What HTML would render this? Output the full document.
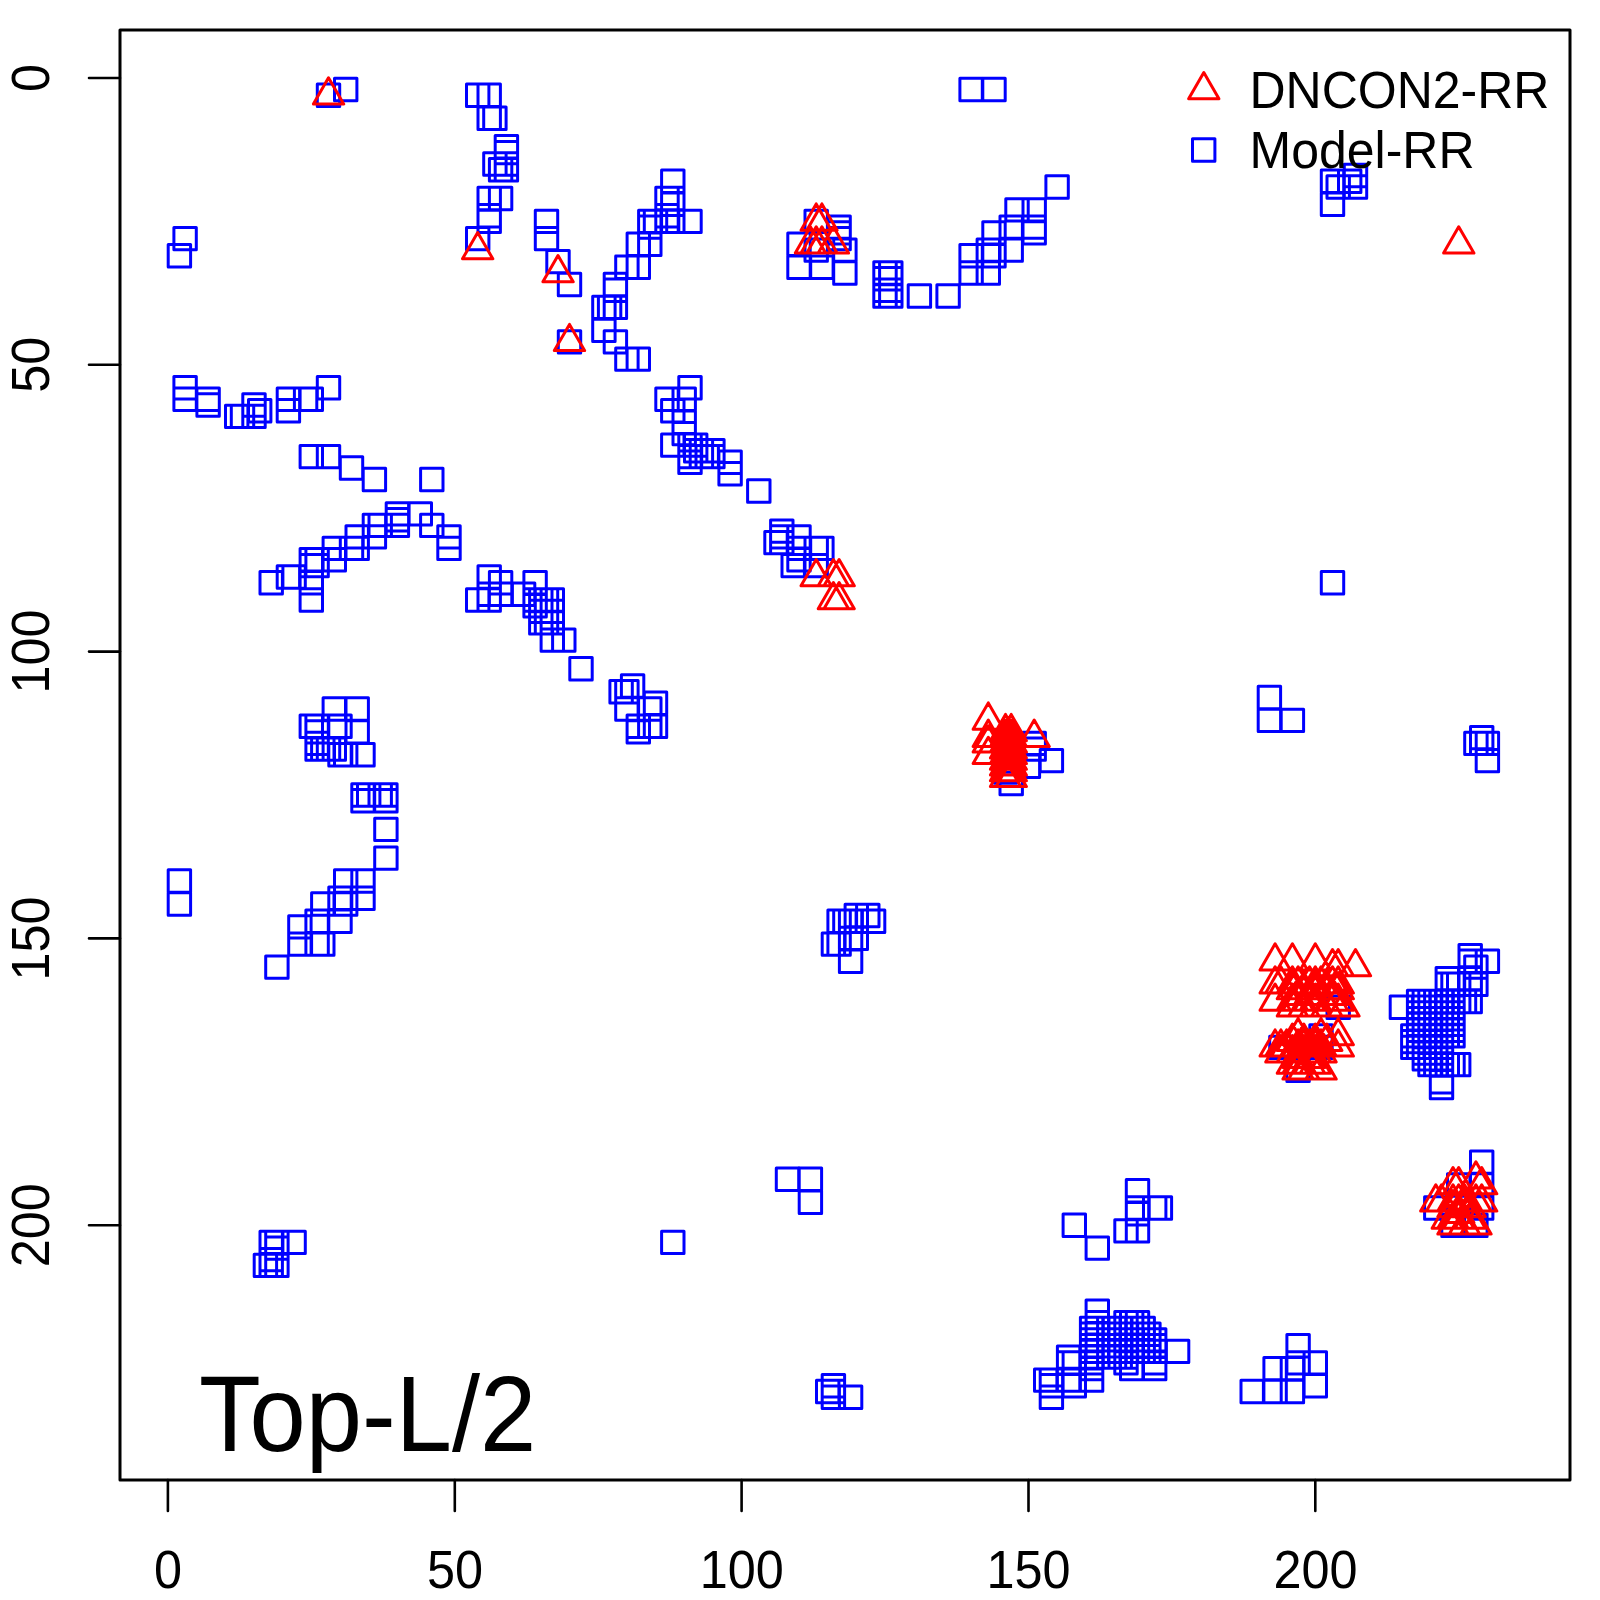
<!DOCTYPE html>
<html><head><meta charset="utf-8"><style>
html,body{margin:0;padding:0;background:#fff;}
svg{display:block;}
text{font-family:"Liberation Sans",sans-serif;}
</style></head><body>
<svg width="1600" height="1600" viewBox="0 0 1600 1600">
<rect width="1600" height="1600" fill="#fff"/>
<path d="M120 30H1570V1480H120Z" fill="none" stroke="#000" stroke-width="3" stroke-linejoin="round"/>
<path d="M167.9 1480V1511M89 78.0H120M454.8 1480V1511M89 364.8H120M741.6 1480V1511M89 651.6H120M1028.5 1480V1511M89 938.4H120M1315.3 1480V1511M89 1225.2H120" fill="none" stroke="#000" stroke-width="2.6" stroke-linecap="round"/>
<g font-size="50.4" fill="#000">
<text transform="translate(168.0 1588.3) scale(1 1.064)" text-anchor="middle">0</text>
<text transform="translate(48.8 78.0) rotate(-90) scale(1 1.064)" text-anchor="middle">0</text>
<text transform="translate(454.9 1588.3) scale(1 1.064)" text-anchor="middle">50</text>
<text transform="translate(48.8 364.8) rotate(-90) scale(1 1.064)" text-anchor="middle">50</text>
<text transform="translate(741.7 1588.3) scale(1 1.064)" text-anchor="middle">100</text>
<text transform="translate(48.8 651.6) rotate(-90) scale(1 1.064)" text-anchor="middle">100</text>
<text transform="translate(1028.5 1588.3) scale(1 1.064)" text-anchor="middle">150</text>
<text transform="translate(48.8 938.4) rotate(-90) scale(1 1.064)" text-anchor="middle">150</text>
<text transform="translate(1315.4 1588.3) scale(1 1.064)" text-anchor="middle">200</text>
<text transform="translate(48.8 1225.2) rotate(-90) scale(1 1.064)" text-anchor="middle">200</text>
</g>
<path d="M317.3 84.0h22.4v22.4h-22.4zM334.5 78.3h22.4v22.4h-22.4zM173.9 227.4h22.4v22.4h-22.4zM168.2 244.6h22.4v22.4h-22.4zM466.5 84.0h22.4v22.4h-22.4zM478.0 84.0h22.4v22.4h-22.4zM478.0 107.0h22.4v22.4h-22.4zM483.7 107.0h22.4v22.4h-22.4zM495.2 135.6h22.4v22.4h-22.4zM495.2 141.4h22.4v22.4h-22.4zM483.7 152.8h22.4v22.4h-22.4zM489.4 158.6h22.4v22.4h-22.4zM495.2 152.8h22.4v22.4h-22.4zM495.2 158.6h22.4v22.4h-22.4zM478.0 187.3h22.4v22.4h-22.4zM489.4 187.3h22.4v22.4h-22.4zM478.0 204.5h22.4v22.4h-22.4zM478.0 210.2h22.4v22.4h-22.4zM466.5 227.4h22.4v22.4h-22.4zM535.3 210.2h22.4v22.4h-22.4zM535.3 227.4h22.4v22.4h-22.4zM546.8 250.4h22.4v22.4h-22.4zM558.3 273.3h22.4v22.4h-22.4zM558.3 330.7h22.4v22.4h-22.4zM661.6 170.0h22.4v22.4h-22.4zM655.8 187.3h22.4v22.4h-22.4zM661.6 193.0h22.4v22.4h-22.4zM655.8 204.5h22.4v22.4h-22.4zM638.6 210.2h22.4v22.4h-22.4zM644.3 210.2h22.4v22.4h-22.4zM655.8 210.2h22.4v22.4h-22.4zM661.6 210.2h22.4v22.4h-22.4zM678.8 210.2h22.4v22.4h-22.4zM627.1 233.1h22.4v22.4h-22.4zM638.6 233.1h22.4v22.4h-22.4zM638.6 215.9h22.4v22.4h-22.4zM661.6 187.3h22.4v22.4h-22.4zM615.7 256.1h22.4v22.4h-22.4zM627.1 256.1h22.4v22.4h-22.4zM604.2 273.3h22.4v22.4h-22.4zM604.2 279.0h22.4v22.4h-22.4zM592.7 296.2h22.4v22.4h-22.4zM598.4 296.2h22.4v22.4h-22.4zM604.2 296.2h22.4v22.4h-22.4zM592.7 319.2h22.4v22.4h-22.4zM604.2 330.7h22.4v22.4h-22.4zM615.7 347.9h22.4v22.4h-22.4zM627.1 347.9h22.4v22.4h-22.4zM805.0 210.2h22.4v22.4h-22.4zM827.9 215.9h22.4v22.4h-22.4zM827.9 221.7h22.4v22.4h-22.4zM827.9 227.4h22.4v22.4h-22.4zM787.8 233.1h22.4v22.4h-22.4zM787.8 256.1h22.4v22.4h-22.4zM810.7 256.1h22.4v22.4h-22.4zM805.0 238.9h22.4v22.4h-22.4zM833.7 238.9h22.4v22.4h-22.4zM833.7 261.8h22.4v22.4h-22.4zM873.8 261.8h22.4v22.4h-22.4zM879.6 261.8h22.4v22.4h-22.4zM873.8 267.6h22.4v22.4h-22.4zM879.6 267.6h22.4v22.4h-22.4zM873.8 279.0h22.4v22.4h-22.4zM879.6 279.0h22.4v22.4h-22.4zM873.8 284.8h22.4v22.4h-22.4zM879.6 284.8h22.4v22.4h-22.4zM908.2 284.8h22.4v22.4h-22.4zM936.9 284.8h22.4v22.4h-22.4zM959.9 78.3h22.4v22.4h-22.4zM982.8 78.3h22.4v22.4h-22.4zM1045.9 175.8h22.4v22.4h-22.4zM1005.8 198.7h22.4v22.4h-22.4zM1023.0 198.7h22.4v22.4h-22.4zM1000.0 215.9h22.4v22.4h-22.4zM1023.0 215.9h22.4v22.4h-22.4zM982.8 221.7h22.4v22.4h-22.4zM1023.0 221.7h22.4v22.4h-22.4zM977.1 238.9h22.4v22.4h-22.4zM1000.0 238.9h22.4v22.4h-22.4zM959.9 244.6h22.4v22.4h-22.4zM982.8 244.6h22.4v22.4h-22.4zM959.9 261.8h22.4v22.4h-22.4zM977.1 261.8h22.4v22.4h-22.4zM1321.3 170.0h22.4v22.4h-22.4zM1321.3 193.0h22.4v22.4h-22.4zM1327.0 175.8h22.4v22.4h-22.4zM1338.5 170.0h22.4v22.4h-22.4zM1344.3 164.3h22.4v22.4h-22.4zM1344.3 175.8h22.4v22.4h-22.4zM173.9 376.5h22.4v22.4h-22.4zM173.9 388.0h22.4v22.4h-22.4zM196.9 388.0h22.4v22.4h-22.4zM196.9 393.8h22.4v22.4h-22.4zM225.5 405.2h22.4v22.4h-22.4zM231.3 405.2h22.4v22.4h-22.4zM242.8 393.8h22.4v22.4h-22.4zM248.5 399.5h22.4v22.4h-22.4zM242.8 405.2h22.4v22.4h-22.4zM277.2 388.0h22.4v22.4h-22.4zM277.2 399.5h22.4v22.4h-22.4zM294.4 388.0h22.4v22.4h-22.4zM300.1 388.0h22.4v22.4h-22.4zM317.3 376.5h22.4v22.4h-22.4zM300.1 445.4h22.4v22.4h-22.4zM317.3 445.4h22.4v22.4h-22.4zM340.3 456.8h22.4v22.4h-22.4zM363.2 468.3h22.4v22.4h-22.4zM420.6 468.3h22.4v22.4h-22.4zM386.2 502.7h22.4v22.4h-22.4zM409.1 502.7h22.4v22.4h-22.4zM386.2 508.5h22.4v22.4h-22.4zM386.2 514.2h22.4v22.4h-22.4zM363.2 514.2h22.4v22.4h-22.4zM369.0 514.2h22.4v22.4h-22.4zM420.6 514.2h22.4v22.4h-22.4zM437.8 525.7h22.4v22.4h-22.4zM437.8 537.2h22.4v22.4h-22.4zM346.0 525.7h22.4v22.4h-22.4zM323.1 537.2h22.4v22.4h-22.4zM323.1 548.6h22.4v22.4h-22.4zM340.3 537.2h22.4v22.4h-22.4zM300.1 548.6h22.4v22.4h-22.4zM305.9 548.6h22.4v22.4h-22.4zM300.1 554.4h22.4v22.4h-22.4zM305.9 554.4h22.4v22.4h-22.4zM346.0 537.2h22.4v22.4h-22.4zM363.2 525.7h22.4v22.4h-22.4zM277.2 565.8h22.4v22.4h-22.4zM282.9 565.8h22.4v22.4h-22.4zM300.1 571.6h22.4v22.4h-22.4zM260.0 571.6h22.4v22.4h-22.4zM300.1 588.8h22.4v22.4h-22.4zM466.5 588.8h22.4v22.4h-22.4zM478.0 565.8h22.4v22.4h-22.4zM489.4 571.6h22.4v22.4h-22.4zM478.0 583.0h22.4v22.4h-22.4zM489.4 583.0h22.4v22.4h-22.4zM512.4 583.0h22.4v22.4h-22.4zM478.0 588.8h22.4v22.4h-22.4zM535.3 600.2h22.4v22.4h-22.4zM535.3 611.7h22.4v22.4h-22.4zM523.9 588.8h22.4v22.4h-22.4zM523.9 571.6h22.4v22.4h-22.4zM523.9 594.5h22.4v22.4h-22.4zM529.6 588.8h22.4v22.4h-22.4zM529.6 611.7h22.4v22.4h-22.4zM535.3 588.8h22.4v22.4h-22.4zM541.1 588.8h22.4v22.4h-22.4zM541.1 611.7h22.4v22.4h-22.4zM529.6 600.2h22.4v22.4h-22.4zM541.1 600.2h22.4v22.4h-22.4zM541.1 628.9h22.4v22.4h-22.4zM552.6 628.9h22.4v22.4h-22.4zM569.8 657.6h22.4v22.4h-22.4zM621.4 674.8h22.4v22.4h-22.4zM609.9 680.6h22.4v22.4h-22.4zM615.7 680.6h22.4v22.4h-22.4zM615.7 697.8h22.4v22.4h-22.4zM627.1 715.0h22.4v22.4h-22.4zM627.1 720.7h22.4v22.4h-22.4zM644.3 692.0h22.4v22.4h-22.4zM644.3 715.0h22.4v22.4h-22.4zM638.6 697.8h22.4v22.4h-22.4zM638.6 715.0h22.4v22.4h-22.4zM678.8 376.5h22.4v22.4h-22.4zM655.8 388.0h22.4v22.4h-22.4zM673.0 388.0h22.4v22.4h-22.4zM661.6 399.5h22.4v22.4h-22.4zM673.0 411.0h22.4v22.4h-22.4zM673.0 422.4h22.4v22.4h-22.4zM661.6 433.9h22.4v22.4h-22.4zM678.8 433.9h22.4v22.4h-22.4zM684.5 433.9h22.4v22.4h-22.4zM684.5 439.6h22.4v22.4h-22.4zM690.2 439.6h22.4v22.4h-22.4zM696.0 445.4h22.4v22.4h-22.4zM690.2 445.4h22.4v22.4h-22.4zM678.8 445.4h22.4v22.4h-22.4zM678.8 451.1h22.4v22.4h-22.4zM701.7 439.6h22.4v22.4h-22.4zM701.7 445.4h22.4v22.4h-22.4zM718.9 451.1h22.4v22.4h-22.4zM718.9 462.6h22.4v22.4h-22.4zM747.6 479.8h22.4v22.4h-22.4zM770.6 519.9h22.4v22.4h-22.4zM770.6 525.7h22.4v22.4h-22.4zM764.8 531.4h22.4v22.4h-22.4zM770.6 531.4h22.4v22.4h-22.4zM787.8 525.7h22.4v22.4h-22.4zM787.8 537.2h22.4v22.4h-22.4zM805.0 537.2h22.4v22.4h-22.4zM810.7 537.2h22.4v22.4h-22.4zM787.8 548.6h22.4v22.4h-22.4zM782.0 554.4h22.4v22.4h-22.4zM805.0 554.4h22.4v22.4h-22.4zM323.1 697.8h22.4v22.4h-22.4zM346.0 697.8h22.4v22.4h-22.4zM346.0 720.7h22.4v22.4h-22.4zM300.1 715.0h22.4v22.4h-22.4zM305.9 715.0h22.4v22.4h-22.4zM305.9 720.7h22.4v22.4h-22.4zM305.9 732.2h22.4v22.4h-22.4zM328.8 715.0h22.4v22.4h-22.4zM305.9 737.9h22.4v22.4h-22.4zM311.6 737.9h22.4v22.4h-22.4zM317.3 737.9h22.4v22.4h-22.4zM323.1 737.9h22.4v22.4h-22.4zM328.8 743.6h22.4v22.4h-22.4zM334.5 743.6h22.4v22.4h-22.4zM351.8 743.6h22.4v22.4h-22.4zM351.8 783.8h22.4v22.4h-22.4zM357.5 783.8h22.4v22.4h-22.4zM369.0 783.8h22.4v22.4h-22.4zM374.7 783.8h22.4v22.4h-22.4zM351.8 789.5h22.4v22.4h-22.4zM374.7 789.5h22.4v22.4h-22.4zM374.7 818.2h22.4v22.4h-22.4zM374.7 846.9h22.4v22.4h-22.4zM334.5 869.8h22.4v22.4h-22.4zM351.8 869.8h22.4v22.4h-22.4zM351.8 887.0h22.4v22.4h-22.4zM328.8 887.0h22.4v22.4h-22.4zM311.6 892.8h22.4v22.4h-22.4zM334.5 892.8h22.4v22.4h-22.4zM305.9 910.0h22.4v22.4h-22.4zM288.7 915.7h22.4v22.4h-22.4zM328.8 910.0h22.4v22.4h-22.4zM288.7 932.9h22.4v22.4h-22.4zM305.9 932.9h22.4v22.4h-22.4zM311.6 932.9h22.4v22.4h-22.4zM265.7 955.9h22.4v22.4h-22.4zM168.2 869.8h22.4v22.4h-22.4zM168.2 892.8h22.4v22.4h-22.4zM1023.0 732.2h22.4v22.4h-22.4zM1023.0 737.9h22.4v22.4h-22.4zM1040.2 749.4h22.4v22.4h-22.4zM994.3 760.9h22.4v22.4h-22.4zM1000.0 772.3h22.4v22.4h-22.4zM1017.2 755.1h22.4v22.4h-22.4zM1258.2 686.3h22.4v22.4h-22.4zM1258.2 709.2h22.4v22.4h-22.4zM1281.2 709.2h22.4v22.4h-22.4zM1470.5 726.4h22.4v22.4h-22.4zM1464.7 732.2h22.4v22.4h-22.4zM1470.5 732.2h22.4v22.4h-22.4zM1476.2 732.2h22.4v22.4h-22.4zM1476.2 749.4h22.4v22.4h-22.4zM1321.3 571.6h22.4v22.4h-22.4zM845.1 904.3h22.4v22.4h-22.4zM856.6 904.3h22.4v22.4h-22.4zM827.9 910.0h22.4v22.4h-22.4zM833.7 910.0h22.4v22.4h-22.4zM839.4 910.0h22.4v22.4h-22.4zM862.4 910.0h22.4v22.4h-22.4zM822.2 932.9h22.4v22.4h-22.4zM827.9 932.9h22.4v22.4h-22.4zM839.4 927.2h22.4v22.4h-22.4zM845.1 927.2h22.4v22.4h-22.4zM839.4 950.1h22.4v22.4h-22.4zM776.3 1168.1h22.4v22.4h-22.4zM799.2 1168.1h22.4v22.4h-22.4zM799.2 1191.1h22.4v22.4h-22.4zM260.0 1231.2h22.4v22.4h-22.4zM265.7 1231.2h22.4v22.4h-22.4zM265.7 1236.9h22.4v22.4h-22.4zM282.9 1231.2h22.4v22.4h-22.4zM260.0 1248.4h22.4v22.4h-22.4zM254.2 1254.2h22.4v22.4h-22.4zM260.0 1254.2h22.4v22.4h-22.4zM265.7 1254.2h22.4v22.4h-22.4zM661.6 1231.2h22.4v22.4h-22.4zM1063.1 1214.0h22.4v22.4h-22.4zM1086.1 1236.9h22.4v22.4h-22.4zM1126.3 1179.6h22.4v22.4h-22.4zM1126.3 1196.8h22.4v22.4h-22.4zM1126.3 1202.5h22.4v22.4h-22.4zM1143.5 1196.8h22.4v22.4h-22.4zM1149.2 1196.8h22.4v22.4h-22.4zM1114.8 1219.7h22.4v22.4h-22.4zM1126.3 1219.7h22.4v22.4h-22.4zM1269.7 1036.2h22.4v22.4h-22.4zM1309.8 1024.7h22.4v22.4h-22.4zM1327.0 996.0h22.4v22.4h-22.4zM1286.9 1059.1h22.4v22.4h-22.4zM1309.8 1036.2h22.4v22.4h-22.4zM1470.5 1150.9h22.4v22.4h-22.4zM1447.5 1173.8h22.4v22.4h-22.4zM1470.5 1173.8h22.4v22.4h-22.4zM1424.6 1196.8h22.4v22.4h-22.4zM1470.5 1196.8h22.4v22.4h-22.4zM1441.8 1214.0h22.4v22.4h-22.4zM1464.7 1214.0h22.4v22.4h-22.4zM816.5 1380.3h22.4v22.4h-22.4zM822.2 1374.6h22.4v22.4h-22.4zM822.2 1380.3h22.4v22.4h-22.4zM822.2 1386.1h22.4v22.4h-22.4zM839.4 1386.1h22.4v22.4h-22.4zM1241.0 1380.3h22.4v22.4h-22.4zM1263.9 1357.4h22.4v22.4h-22.4zM1281.2 1357.4h22.4v22.4h-22.4zM1286.9 1334.5h22.4v22.4h-22.4zM1286.9 1351.7h22.4v22.4h-22.4zM1304.1 1351.7h22.4v22.4h-22.4zM1263.9 1380.3h22.4v22.4h-22.4zM1281.2 1380.3h22.4v22.4h-22.4zM1304.1 1374.6h22.4v22.4h-22.4zM1459.0 944.4h22.4v22.4h-22.4zM1459.0 950.1h22.4v22.4h-22.4zM1476.2 950.1h22.4v22.4h-22.4zM1464.7 955.9h22.4v22.4h-22.4zM1436.1 967.4h22.4v22.4h-22.4zM1459.0 967.4h22.4v22.4h-22.4zM1436.1 973.1h22.4v22.4h-22.4zM1441.8 973.1h22.4v22.4h-22.4zM1447.5 973.1h22.4v22.4h-22.4zM1464.7 973.1h22.4v22.4h-22.4zM1407.4 990.3h22.4v22.4h-22.4zM1413.1 990.3h22.4v22.4h-22.4zM1418.8 990.3h22.4v22.4h-22.4zM1424.6 990.3h22.4v22.4h-22.4zM1430.3 990.3h22.4v22.4h-22.4zM1436.1 990.3h22.4v22.4h-22.4zM1441.8 990.3h22.4v22.4h-22.4zM1447.5 990.3h22.4v22.4h-22.4zM1453.3 990.3h22.4v22.4h-22.4zM1459.0 990.3h22.4v22.4h-22.4zM1390.2 996.0h22.4v22.4h-22.4zM1407.4 996.0h22.4v22.4h-22.4zM1413.1 996.0h22.4v22.4h-22.4zM1418.8 996.0h22.4v22.4h-22.4zM1424.6 996.0h22.4v22.4h-22.4zM1430.3 996.0h22.4v22.4h-22.4zM1436.1 996.0h22.4v22.4h-22.4zM1441.8 996.0h22.4v22.4h-22.4zM1407.4 1001.8h22.4v22.4h-22.4zM1413.1 1001.8h22.4v22.4h-22.4zM1418.8 1001.8h22.4v22.4h-22.4zM1424.6 1001.8h22.4v22.4h-22.4zM1430.3 1001.8h22.4v22.4h-22.4zM1436.1 1001.8h22.4v22.4h-22.4zM1441.8 1001.8h22.4v22.4h-22.4zM1407.4 1007.5h22.4v22.4h-22.4zM1413.1 1007.5h22.4v22.4h-22.4zM1418.8 1007.5h22.4v22.4h-22.4zM1424.6 1007.5h22.4v22.4h-22.4zM1430.3 1007.5h22.4v22.4h-22.4zM1436.1 1007.5h22.4v22.4h-22.4zM1441.8 1007.5h22.4v22.4h-22.4zM1407.4 1013.2h22.4v22.4h-22.4zM1413.1 1013.2h22.4v22.4h-22.4zM1418.8 1013.2h22.4v22.4h-22.4zM1424.6 1013.2h22.4v22.4h-22.4zM1430.3 1013.2h22.4v22.4h-22.4zM1436.1 1013.2h22.4v22.4h-22.4zM1441.8 1013.2h22.4v22.4h-22.4zM1407.4 1019.0h22.4v22.4h-22.4zM1413.1 1019.0h22.4v22.4h-22.4zM1418.8 1019.0h22.4v22.4h-22.4zM1424.6 1019.0h22.4v22.4h-22.4zM1430.3 1019.0h22.4v22.4h-22.4zM1436.1 1019.0h22.4v22.4h-22.4zM1441.8 1019.0h22.4v22.4h-22.4zM1401.6 1024.7h22.4v22.4h-22.4zM1407.4 1024.7h22.4v22.4h-22.4zM1413.1 1024.7h22.4v22.4h-22.4zM1418.8 1024.7h22.4v22.4h-22.4zM1424.6 1024.7h22.4v22.4h-22.4zM1430.3 1024.7h22.4v22.4h-22.4zM1436.1 1024.7h22.4v22.4h-22.4zM1441.8 1024.7h22.4v22.4h-22.4zM1401.6 1030.4h22.4v22.4h-22.4zM1407.4 1030.4h22.4v22.4h-22.4zM1413.1 1030.4h22.4v22.4h-22.4zM1418.8 1030.4h22.4v22.4h-22.4zM1424.6 1030.4h22.4v22.4h-22.4zM1430.3 1030.4h22.4v22.4h-22.4zM1401.6 1036.2h22.4v22.4h-22.4zM1407.4 1036.2h22.4v22.4h-22.4zM1413.1 1036.2h22.4v22.4h-22.4zM1418.8 1036.2h22.4v22.4h-22.4zM1424.6 1036.2h22.4v22.4h-22.4zM1430.3 1036.2h22.4v22.4h-22.4zM1413.1 1041.9h22.4v22.4h-22.4zM1418.8 1041.9h22.4v22.4h-22.4zM1424.6 1041.9h22.4v22.4h-22.4zM1430.3 1041.9h22.4v22.4h-22.4zM1413.1 1047.7h22.4v22.4h-22.4zM1418.8 1047.7h22.4v22.4h-22.4zM1424.6 1047.7h22.4v22.4h-22.4zM1430.3 1047.7h22.4v22.4h-22.4zM1418.8 1053.4h22.4v22.4h-22.4zM1424.6 1053.4h22.4v22.4h-22.4zM1430.3 1053.4h22.4v22.4h-22.4zM1436.1 1053.4h22.4v22.4h-22.4zM1441.8 1053.4h22.4v22.4h-22.4zM1447.5 1053.4h22.4v22.4h-22.4zM1430.3 1070.6h22.4v22.4h-22.4zM1430.3 1076.3h22.4v22.4h-22.4zM1086.1 1300.0h22.4v22.4h-22.4zM1086.1 1311.5h22.4v22.4h-22.4zM1114.8 1311.5h22.4v22.4h-22.4zM1120.5 1311.5h22.4v22.4h-22.4zM1126.3 1311.5h22.4v22.4h-22.4zM1080.4 1317.2h22.4v22.4h-22.4zM1086.1 1317.2h22.4v22.4h-22.4zM1097.6 1317.2h22.4v22.4h-22.4zM1103.3 1317.2h22.4v22.4h-22.4zM1109.0 1317.2h22.4v22.4h-22.4zM1114.8 1317.2h22.4v22.4h-22.4zM1120.5 1317.2h22.4v22.4h-22.4zM1126.3 1317.2h22.4v22.4h-22.4zM1132.0 1317.2h22.4v22.4h-22.4zM1080.4 1323.0h22.4v22.4h-22.4zM1086.1 1323.0h22.4v22.4h-22.4zM1097.6 1323.0h22.4v22.4h-22.4zM1103.3 1323.0h22.4v22.4h-22.4zM1109.0 1323.0h22.4v22.4h-22.4zM1114.8 1323.0h22.4v22.4h-22.4zM1120.5 1323.0h22.4v22.4h-22.4zM1126.3 1323.0h22.4v22.4h-22.4zM1132.0 1323.0h22.4v22.4h-22.4zM1137.7 1323.0h22.4v22.4h-22.4zM1080.4 1328.7h22.4v22.4h-22.4zM1097.6 1328.7h22.4v22.4h-22.4zM1103.3 1328.7h22.4v22.4h-22.4zM1109.0 1328.7h22.4v22.4h-22.4zM1114.8 1328.7h22.4v22.4h-22.4zM1120.5 1328.7h22.4v22.4h-22.4zM1126.3 1328.7h22.4v22.4h-22.4zM1132.0 1328.7h22.4v22.4h-22.4zM1137.7 1328.7h22.4v22.4h-22.4zM1143.5 1328.7h22.4v22.4h-22.4zM1080.4 1334.5h22.4v22.4h-22.4zM1097.6 1334.5h22.4v22.4h-22.4zM1103.3 1334.5h22.4v22.4h-22.4zM1109.0 1334.5h22.4v22.4h-22.4zM1114.8 1334.5h22.4v22.4h-22.4zM1120.5 1334.5h22.4v22.4h-22.4zM1126.3 1334.5h22.4v22.4h-22.4zM1132.0 1334.5h22.4v22.4h-22.4zM1137.7 1334.5h22.4v22.4h-22.4zM1143.5 1334.5h22.4v22.4h-22.4zM1080.4 1340.2h22.4v22.4h-22.4zM1086.1 1340.2h22.4v22.4h-22.4zM1097.6 1340.2h22.4v22.4h-22.4zM1103.3 1340.2h22.4v22.4h-22.4zM1109.0 1340.2h22.4v22.4h-22.4zM1114.8 1340.2h22.4v22.4h-22.4zM1120.5 1340.2h22.4v22.4h-22.4zM1126.3 1340.2h22.4v22.4h-22.4zM1132.0 1340.2h22.4v22.4h-22.4zM1137.7 1340.2h22.4v22.4h-22.4zM1143.5 1340.2h22.4v22.4h-22.4zM1166.4 1340.2h22.4v22.4h-22.4zM1057.4 1345.9h22.4v22.4h-22.4zM1080.4 1345.9h22.4v22.4h-22.4zM1097.6 1345.9h22.4v22.4h-22.4zM1103.3 1345.9h22.4v22.4h-22.4zM1109.0 1345.9h22.4v22.4h-22.4zM1114.8 1345.9h22.4v22.4h-22.4zM1057.4 1351.7h22.4v22.4h-22.4zM1063.1 1351.7h22.4v22.4h-22.4zM1080.4 1351.7h22.4v22.4h-22.4zM1114.8 1351.7h22.4v22.4h-22.4zM1143.5 1351.7h22.4v22.4h-22.4zM1080.4 1357.4h22.4v22.4h-22.4zM1120.5 1357.4h22.4v22.4h-22.4zM1143.5 1357.4h22.4v22.4h-22.4zM1034.5 1368.9h22.4v22.4h-22.4zM1040.2 1368.9h22.4v22.4h-22.4zM1057.4 1368.9h22.4v22.4h-22.4zM1063.1 1368.9h22.4v22.4h-22.4zM1080.4 1368.9h22.4v22.4h-22.4zM1040.2 1374.6h22.4v22.4h-22.4zM1063.1 1374.6h22.4v22.4h-22.4zM1040.2 1386.1h22.4v22.4h-22.4z" fill="none" stroke="#0000ff" stroke-width="3" stroke-linejoin="round"/>
<path d="M328.5 77.7L343.7 104.0L313.4 104.0zM477.7 232.6L492.8 258.8L462.5 258.8zM558.0 255.5L573.2 281.8L542.9 281.8zM569.5 324.4L584.6 350.6L554.3 350.6zM1458.7 226.8L1473.9 253.1L1443.6 253.1zM816.2 203.9L831.3 230.2L801.0 230.2zM821.9 203.9L837.1 230.2L806.8 230.2zM810.4 226.8L825.6 253.1L795.3 253.1zM816.2 226.8L831.3 253.1L801.0 253.1zM821.9 226.8L837.1 253.1L806.8 253.1zM833.4 226.8L848.5 253.1L818.2 253.1zM816.2 559.5L831.3 585.8L801.0 585.8zM833.4 559.5L848.5 585.8L818.2 585.8zM839.1 559.5L854.3 585.8L824.0 585.8zM833.4 582.5L848.5 608.7L818.2 608.7zM839.1 582.5L854.3 608.7L824.0 608.7zM988.3 702.9L1003.4 729.2L973.1 729.2zM988.3 720.1L1003.4 746.4L973.1 746.4zM988.3 725.9L1003.4 752.1L973.1 752.1zM988.3 737.3L1003.4 763.6L973.1 763.6zM1034.2 720.1L1049.3 746.4L1019.0 746.4zM1005.5 714.4L1020.7 740.7L990.4 740.7zM1011.2 714.4L1026.4 740.7L996.1 740.7zM1005.5 720.1L1020.7 746.4L990.4 746.4zM1011.2 720.1L1026.4 746.4L996.1 746.4zM1005.5 725.9L1020.7 752.1L990.4 752.1zM1011.2 725.9L1026.4 752.1L996.1 752.1zM1005.5 731.6L1020.7 757.9L990.4 757.9zM1011.2 731.6L1026.4 757.9L996.1 757.9zM1005.5 737.3L1020.7 763.6L990.4 763.6zM1011.2 737.3L1026.4 763.6L996.1 763.6zM1005.5 743.1L1020.7 769.3L990.4 769.3zM1011.2 743.1L1026.4 769.3L996.1 769.3zM1005.5 748.8L1020.7 775.1L990.4 775.1zM1011.2 748.8L1026.4 775.1L996.1 775.1zM1005.5 754.6L1020.7 780.8L990.4 780.8zM1011.2 754.6L1026.4 780.8L996.1 780.8zM1005.5 760.3L1020.7 786.5L990.4 786.5zM1011.2 760.3L1026.4 786.5L996.1 786.5zM1275.1 943.8L1290.3 970.1L1260.0 970.1zM1292.4 943.8L1307.5 970.1L1277.2 970.1zM1315.3 943.8L1330.5 970.1L1300.2 970.1zM1332.5 949.6L1347.7 975.8L1317.4 975.8zM1338.2 949.6L1353.4 975.8L1323.1 975.8zM1355.5 949.6L1370.6 975.8L1340.3 975.8zM1275.1 966.8L1290.3 993.0L1260.0 993.0zM1280.9 966.8L1296.0 993.0L1265.7 993.0zM1292.4 966.8L1307.5 993.0L1277.2 993.0zM1298.1 966.8L1313.2 993.0L1282.9 993.0zM1309.6 966.8L1324.7 993.0L1294.4 993.0zM1315.3 966.8L1330.5 993.0L1300.2 993.0zM1321.0 966.8L1336.2 993.0L1305.9 993.0zM1332.5 966.8L1347.7 993.0L1317.4 993.0zM1338.2 966.8L1353.4 993.0L1323.1 993.0zM1292.4 972.5L1307.5 998.8L1277.2 998.8zM1303.8 972.5L1319.0 998.8L1288.7 998.8zM1315.3 972.5L1330.5 998.8L1300.2 998.8zM1326.8 972.5L1341.9 998.8L1311.6 998.8zM1338.2 972.5L1353.4 998.8L1323.1 998.8zM1298.1 978.3L1313.2 1004.5L1282.9 1004.5zM1309.6 978.3L1324.7 1004.5L1294.4 1004.5zM1321.0 978.3L1336.2 1004.5L1305.9 1004.5zM1332.5 978.3L1347.7 1004.5L1317.4 1004.5zM1275.1 984.0L1290.3 1010.2L1260.0 1010.2zM1292.4 984.0L1307.5 1010.2L1277.2 1010.2zM1298.1 984.0L1313.2 1010.2L1282.9 1010.2zM1309.6 984.0L1324.7 1010.2L1294.4 1010.2zM1315.3 984.0L1330.5 1010.2L1300.2 1010.2zM1332.5 984.0L1347.7 1010.2L1317.4 1010.2zM1338.2 984.0L1353.4 1010.2L1323.1 1010.2zM1292.4 989.7L1307.5 1016.0L1277.2 1016.0zM1303.8 989.7L1319.0 1016.0L1288.7 1016.0zM1315.3 989.7L1330.5 1016.0L1300.2 1016.0zM1326.8 989.7L1341.9 1016.0L1311.6 1016.0zM1344.0 989.7L1359.1 1016.0L1328.8 1016.0zM1298.1 1018.4L1313.2 1044.7L1282.9 1044.7zM1321.0 1018.4L1336.2 1044.7L1305.9 1044.7zM1338.2 1018.4L1353.4 1044.7L1323.1 1044.7zM1292.4 1024.1L1307.5 1050.4L1277.2 1050.4zM1303.8 1024.1L1319.0 1050.4L1288.7 1050.4zM1315.3 1024.1L1330.5 1050.4L1300.2 1050.4zM1326.8 1024.1L1341.9 1050.4L1311.6 1050.4zM1275.1 1029.9L1290.3 1056.1L1260.0 1056.1zM1280.9 1029.9L1296.0 1056.1L1265.7 1056.1zM1286.6 1029.9L1301.8 1056.1L1271.5 1056.1zM1298.1 1029.9L1313.2 1056.1L1282.9 1056.1zM1303.8 1029.9L1319.0 1056.1L1288.7 1056.1zM1309.6 1029.9L1324.7 1056.1L1294.4 1056.1zM1315.3 1029.9L1330.5 1056.1L1300.2 1056.1zM1321.0 1029.9L1336.2 1056.1L1305.9 1056.1zM1338.2 1029.9L1353.4 1056.1L1323.1 1056.1zM1280.9 1035.6L1296.0 1061.9L1265.7 1061.9zM1292.4 1035.6L1307.5 1061.9L1277.2 1061.9zM1303.8 1035.6L1319.0 1061.9L1288.7 1061.9zM1315.3 1035.6L1330.5 1061.9L1300.2 1061.9zM1321.0 1035.6L1336.2 1061.9L1305.9 1061.9zM1298.1 1041.4L1313.2 1067.6L1282.9 1067.6zM1309.6 1041.4L1324.7 1067.6L1294.4 1067.6zM1292.4 1047.1L1307.5 1073.3L1277.2 1073.3zM1298.1 1047.1L1313.2 1073.3L1282.9 1073.3zM1309.6 1047.1L1324.7 1073.3L1294.4 1073.3zM1315.3 1047.1L1330.5 1073.3L1300.2 1073.3zM1298.1 1052.8L1313.2 1079.1L1282.9 1079.1zM1303.8 1052.8L1319.0 1079.1L1288.7 1079.1zM1321.0 1052.8L1336.2 1079.1L1305.9 1079.1zM1475.9 1161.8L1491.1 1188.1L1460.8 1188.1zM1453.0 1167.5L1468.1 1193.8L1437.8 1193.8zM1458.7 1167.5L1473.9 1193.8L1443.6 1193.8zM1481.7 1167.5L1496.8 1193.8L1466.5 1193.8zM1435.8 1184.8L1450.9 1211.0L1420.6 1211.0zM1453.0 1184.8L1468.1 1211.0L1437.8 1211.0zM1458.7 1184.8L1473.9 1211.0L1443.6 1211.0zM1475.9 1184.8L1491.1 1211.0L1460.8 1211.0zM1481.7 1184.8L1496.8 1211.0L1466.5 1211.0zM1470.2 1190.5L1485.3 1216.7L1455.0 1216.7zM1453.0 1202.0L1468.1 1228.2L1437.8 1228.2zM1458.7 1202.0L1473.9 1228.2L1443.6 1228.2zM1453.0 1207.7L1468.1 1234.0L1437.8 1234.0zM1464.5 1207.7L1479.6 1234.0L1449.3 1234.0zM1475.9 1207.7L1491.1 1234.0L1460.8 1234.0zM1441.5 1184.8L1456.7 1211.0L1426.4 1211.0zM1464.5 1184.8L1479.6 1211.0L1449.3 1211.0zM1453.0 1190.5L1468.1 1216.7L1437.8 1216.7zM1464.5 1190.5L1479.6 1216.7L1449.3 1216.7zM1447.3 1202.0L1462.4 1228.2L1432.1 1228.2zM1470.2 1202.0L1485.3 1228.2L1455.0 1228.2zM1458.7 1196.2L1473.9 1222.5L1443.6 1222.5z" fill="none" stroke="#ff0000" stroke-width="3" stroke-linejoin="round"/>
<path d="M1203.8 72.5L1218.95 98.75L1188.65 98.75Z" fill="none" stroke="#ff0000" stroke-width="3" stroke-linejoin="round"/>
<path d="M1192.5 138.8h22.4v22.4h-22.4z" fill="none" stroke="#0000ff" stroke-width="3" stroke-linejoin="round"/>
<g font-size="50" fill="#000">
<text transform="translate(1249.5 107.8) scale(1 1.03)">DNCON2-RR</text>
<text transform="translate(1249.5 168) scale(1 1.03)">Model-RR</text>
</g>
<text transform="translate(199 1451) scale(0.945 1)" font-size="107" fill="#000">Top-L/2</text>
</svg>
</body></html>
